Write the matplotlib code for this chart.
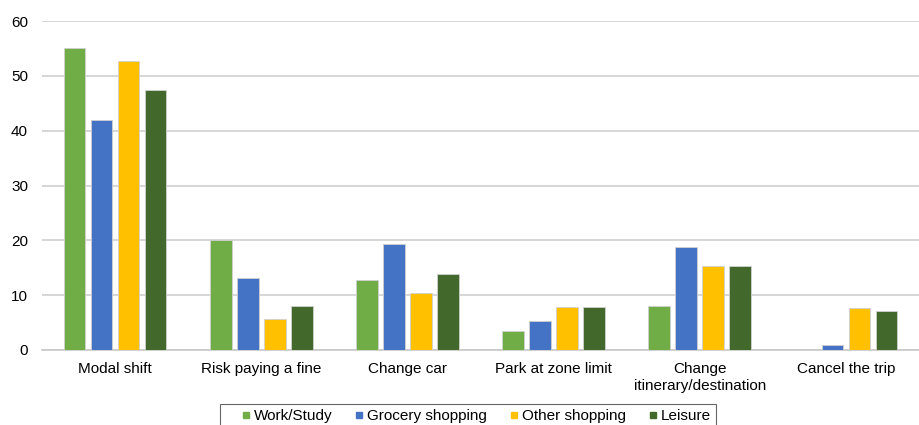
import numpy as np
import matplotlib.pyplot as plt
from matplotlib.lines import Line2D

plt.rcParams["font.family"] = ["Liberation Sans", "DejaVu Sans"]

categories = ["Modal shift", "Risk paying a fine", "Change car", "Park at zone limit",
              "Change\nitinerary/destination", "Cancel the trip"]
series = ["Work/Study", "Grocery shopping", "Other shopping", "Leisure"]
work_study = [55.1, 20.0, 12.8, 3.5, 8.1, 0.0]
grocery = [42.0, 13.1, 19.4, 5.2, 18.7, 1.0]
other_shop = [52.7, 5.7, 10.4, 7.8, 15.4, 7.6]
leisure = [47.4, 8.0, 13.9, 7.8, 15.4, 7.1]
values = [work_study, grocery, other_shop, leisure]
colors = ["#70AD47", "#4472C4", "#FFC000", "#43682B"]

fig = plt.figure(figsize=(9.19, 4.25), dpi=100)
ax = fig.add_axes([0.0457, 0.1765, 0.9543, 0.774])

x = np.arange(len(categories))
pitch = 0.185
width = 0.148
for i, (vals, col) in enumerate(zip(values, colors)):
    ax.bar(x + (i - 1.5) * pitch, vals, width, color=col, edgecolor="#d0d0d0",
           linewidth=0.6, zorder=3)

ax.set_xlim(-0.5, len(categories) - 0.5)
ax.set_ylim(0, 60)
ax.set_yticks(range(0, 61, 10))
ax.set_xticks(x)
ax.set_xticklabels(categories, fontsize=11)
ax.tick_params(axis="y", labelsize=11, length=0, pad=10)
ax.tick_params(axis="x", length=0, pad=9)
ax.grid(axis="y", color="#d0d0d0", lw=1.2, zorder=0)
for s in ["top", "right", "left"]:
    ax.spines[s].set_visible(False)
ax.spines["bottom"].set_color("#c8c8c8")
ax.spines["bottom"].set_linewidth(1.2)

# square legend keys
handles = [Line2D([], [], ls="none", marker="s", markersize=5, markerfacecolor=c,
                  markeredgecolor=c, label=s) for s, c in zip(series, colors)]
leg = fig.legend(handles=handles, loc="upper left", bbox_to_anchor=(0.2394, 0.0494),
                 borderaxespad=0, ncol=4, fontsize=11, frameon=True, fancybox=False,
                 numpoints=1, handlelength=2.64, handletextpad=-0.77,
                 columnspacing=0.41, borderpad=0.35)
leg.get_frame().set_edgecolor("#404040")
leg.get_frame().set_linewidth(0.8)

fig.savefig("out.png", dpi=100)
